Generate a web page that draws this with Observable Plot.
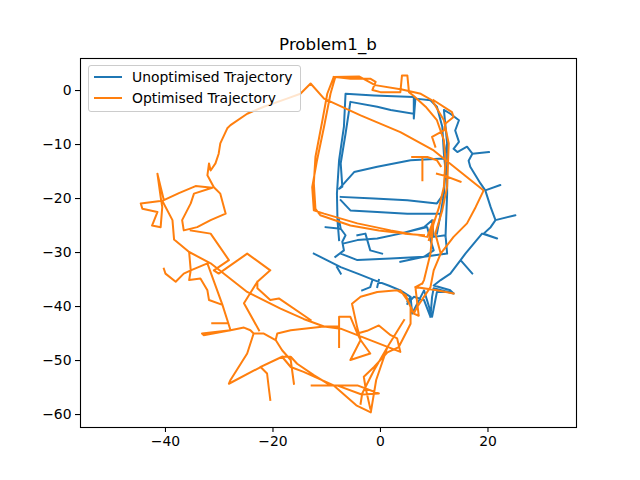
<!DOCTYPE html>
<html>
<head>
<meta charset="utf-8">
<script src="https://cdn.jsdelivr.net/npm/d3@7"></script>
<script src="https://cdn.jsdelivr.net/npm/@observablehq/plot@0.6"></script>
<style>
  html, body { margin: 0; padding: 0; background: white; }
  #wrap { position: relative; width: 640px; height: 480px; font-family: "DejaVu Sans", sans-serif; }
  #title { position: absolute; left: 80px; width: 496px; top: 35px; text-align: center; font-size: 16.7px; line-height: 18px; color: #000; }
  #legend { position: absolute; left: 88px; top: 65px; width: 211px; height: 45px; border: 1px solid #cccccc; border-radius: 3px; background: rgba(255,255,255,0.8); }
  .sw { position: absolute; left: 5px; width: 28px; height: 2px; }
  .lt { position: absolute; left: 43px; font-size: 13.9px; line-height: 16px; color: #000; white-space: nowrap; }
</style>
</head>
<body>
<div id="wrap">
  <div id="chart"></div>
  <div id="title"></div>
  <div id="legend"></div>
</div>
<script>
const chartTitle = "Problem1_b";
const seriesNames = ["Unoptimised Trajectory", "Optimised Trajectory"];
const seriesColors = ["#1f77b4", "#ff7f0e"];
const xTicks = [-40, -20, 0, 20];
const yTicks = [0, -10, -20, -30, -40, -50, -60];
const xDomain = [-55.81, 36.47];
const yDomain = [-62.4, 5.93];

// [x, y] positions; [null, null] marks a gap in the drawn path
const unoptimised = [
  [-7.7,-27.7],[-8.0,-24.0],[-8.1,-19.1],[-7.7,-12.9],[-6.8,-6.7],[-6.5,-0.6],[-1.2,-0.9],[6.2,-1.2],[6.2,-5.2],[6.5,-1.5],[9.3,-1.8],[10.5,-3.0],[11.5,-6.7],[11.8,-11.7],[12.1,-14.8],[11.8,-19.1],[11.2,-22.8],[10.5,-26.5],
  [null,null],
  [6.2,-4.3],[1.9,-3.6],[-0.6,-3.0],[-5.6,-2.1],[-6.5,-8.0],[-7.4,-13.5],[-7.1,-17.8],[-7.7,-18.2],[-4.9,-15.1],[-0.6,-14.1],[5.6,-12.9],[11.8,-12.6],[12.4,-9.8],[11.8,-3.6],
  [13.0,-4.3],[14.6,-5.5],[13.9,-7.4],[14.6,-9.5],[13.6,-10.8],[14.3,-11.4],[16.1,-10.4],[17.1,-11.7],[20.2,-11.4],[17.1,-11.7],[16.4,-13.0],[16.7,-14.1],[18.6,-17.2],[19.5,-18.5],[22.3,-17.5],[19.5,-18.5],[20.5,-21.6],[21.4,-24.0],[25.1,-23.1],[21.4,-24.0],[20.5,-25.3],[19.2,-26.5],[21.7,-27.4],[18.9,-26.5],[15.8,-30.2],[14.9,-31.4],[17.1,-33.9],[14.9,-31.4],[13.0,-33.9],[11.2,-35.1],[9.9,-36.1],[13.0,-37.0],[13.6,-37.6],[9.9,-36.6],[9.6,-38.2],[9.3,-41.9],
  [null,null],
  [12.4,-9.8],[12.4,-19.1],[12.1,-27.1],
  [null,null],
  [-7.4,-19.7],[-1.2,-20.0],[5.0,-20.3],[10.5,-20.9],[11.8,-19.1],
  [null,null],
  [-7.4,-20.3],[-5.6,-22.2],[-0.6,-22.5],[5.0,-22.8],[10.2,-22.8],[11.2,-22.8],
  [null,null],
  [-12.4,-30.2],[-9.8,-31.5],[-7.4,-32.7],[-4.0,-34.0],[-1.2,-35.1],[1.5,-36.1],[3.7,-37.0],[5.6,-38.2],[5.0,-39.1],[5.6,-38.2],[5.9,-41.3],[8.1,-37.0],[9.6,-41.9],[10.5,-37.3],[13.0,-37.3],
  [null,null],
  [-8.1,-32.7],[-7.4,-33.9],
  [null,null],
  [-1.5,-35.1],[-1.9,-36.4],[-3.4,-37.0],
  [null,null],
  [-0.3,-35.1],[-0.6,-36.4],
  [null,null],
  [5.0,-39.5],[6.2,-38.2],[8.1,-38.8],[9.3,-41.9],
  [null,null],
  [-10.2,-25.3],[-7.4,-25.6],[-6.5,-26.8],[-7.1,-28.0],[-6.8,-29.6],[-8.4,-30.8],
  [null,null],
  [-7.7,-24.0],[-7.4,-25.6],
  [null,null],
  [-6.8,-28.3],[-4.3,-27.7],[-0.6,-27.4],[3.7,-26.5],[8.7,-25.3],[9.3,-27.7],[9.9,-29.6],[8.1,-30.8],[1.9,-31.1],[-4.3,-31.4],[-7.4,-30.2],
  [null,null],
  [-4.3,-26.8],[-2.8,-26.5],[-1.9,-29.6],[0.3,-30.2],
  [null,null],
  [3.7,-26.5],[8.1,-25.3],[9.6,-24.0],[9.9,-27.1],[12.1,-26.8],[12.4,-30.2],[8.1,-30.8],[3.7,-31.7]
];

const optimised = [
  [6.2,-41.3],[6.8,-40.1],[9.3,-36.4],[9.9,-33.3],[11.2,-30.2],[13.6,-27.1],[16.1,-24.6],[17.7,-21.6],[19.2,-18.5],[9.9,-11.1],[3.7,-7.7],[-3.7,-4.6],[-10.5,-1.5],[-13.0,1.3],[-14.9,-0.6],[-17.4,-1.5],[-21.7,-3.0],[-24.8,-4.3],[-27.9,-6.4],[-28.5,-7.0],[-29.8,-9.8],[-30.1,-11.7],[-30.7,-13.5],[-31.6,-14.8],[-31.9,-13.5],[-32.2,-15.7],[-31.0,-17.9],[-29.8,-19.1],[-28.8,-22.8],[-31.6,-24.0],[-34.1,-25.3],[-36.6,-25.9],[-36.9,-24.0],[-35.3,-20.9],[-34.7,-19.1],[-31.3,-18.0],[-34.4,-17.7],[-37.5,-19.0],[-40.3,-20.3],[-41.5,-15.4],[-40.9,-19.7],[-40.6,-21.6],[-40.9,-25.3],[-42.5,-25.0],[-41.5,-22.5],[-44.3,-21.9],[-44.6,-20.9],[-40.6,-20.4],[-38.7,-24.0],[-38.4,-27.6],[-35.6,-29.9],[-35.3,-33.3],[-35.6,-35.1],[-33.5,-34.8],[-32.2,-37.0],[-31.9,-38.8],[-29.4,-39.7],[-28.5,-42.5],[-27.9,-44.4],[-32.9,-45.3],[-33.2,-45.0],[-27.9,-44.4],[-25.4,-43.9],[-24.2,-44.4],[-23.6,-45.0],[-24.8,-48.7],[-27.9,-53.6],[-28.2,-54.3],[-22.3,-51.2],[-21.1,-52.4],[-20.8,-54.9],[-20.5,-57.3],
  [null,null],
  [-35.6,-29.9],[-31.6,-32.0],[-24.8,-37.3],[-18.6,-40.4],[-14.3,-42.3],[-10.5,-43.7],[-7.4,-44.1],[-4.3,-45.3],[3.7,-48.4],[3.1,-45.9],[1.9,-45.3],[-0.3,-43.5],[-2.5,-44.5],[-4.3,-45.0],
  [null,null],
  [-40.3,-33.0],[-40.0,-33.9],[-38.1,-35.4],[-36.6,-33.9],[-35.3,-33.3],[-32.2,-32.0],[-29.4,-39.7],[-28.5,-42.5],[-27.9,-44.4],
  [null,null],
  [-35.3,-25.9],[-31.6,-26.5],[-28.2,-31.4],[-31.0,-33.3],[-30.1,-33.9],[-24.8,-30.2],[-20.5,-33.3],[-22.9,-35.4],[-25.4,-39.4],[-22.6,-44.4],
  [null,null],
  [-22.9,-35.4],[-22.9,-36.6],[-20.5,-38.8],[-18.9,-38.5],[-13.0,-42.5],
  [null,null],
  [-31.3,-43.1],[-28.5,-43.1],
  [null,null],
  [-23.6,-45.0],[-21.7,-45.0],[-19.5,-46.2],[-18.3,-48.1],[-16.7,-49.9],[-16.1,-54.3],
  [null,null],
  [-19.5,-46.2],[-19.2,-45.0],[-16.7,-44.4],[-10.5,-43.7],[-7.7,-43.7],
  [null,null],
  [-22.3,-51.2],[-18.3,-49.3],[-16.7,-49.3],[-15.5,-50.6],[-12.4,-52.7],[-9.3,-54.6],[-4.3,-54.6],[-0.3,-56.1],[-3.5,-56.3],[-8.1,-54.6],[-12.8,-54.6],
  [null,null],
  [-18.3,-49.3],[-16.7,-51.2],[-14.3,-52.1],[-8.7,-54.6],[-4.5,-58.3],[-1.8,-59.6],[-0.8,-53.6],[1.3,-47.5],[4.4,-42.5],
  [null,null],
  [-7.7,-47.5],[-7.7,-41.9],[-5.6,-41.9],[-4.3,-45.0],[-3.7,-46.2],[-5.6,-49.9],[-1.9,-48.7],[-3.7,-46.2],[-4.3,-44.0],[-5.3,-39.5],[-3.7,-38.2],[-0.6,-37.3],[3.1,-37.0],[4.7,-37.9],[5.6,-40.1],[5.6,-43.2],[5.0,-44.4],[3.4,-47.5],[1.3,-48.5],[-1.2,-51.2],[-3.1,-53.0],[-2.8,-54.9],[-1.9,-58.9],
  [null,null],
  [1.3,-47.5],[-1.2,-51.8],[-3.4,-56.1],[-3.7,-58.0],
  [null,null],
  [3.7,-37.0],[5.0,-38.8],[6.2,-41.3],[7.1,-41.7],
  [null,null],
  [7.8,-35.7],[6.5,-36.4],[7.1,-41.6],
  [null,null],
  [6.5,-36.4],[10.5,-37.0],[13.6,-37.6],
  [null,null],
  [7.8,-35.7],[8.1,-35.1],[9.3,-30.2],[9.9,-24.0],[8.7,-27.1],[1.9,-25.9],[-4.3,-24.6],[-10.5,-22.8],[-12.4,-22.2],[-12.7,-17.9],[-11.8,-12.9],[-10.5,-6.7],[-9.3,-0.6],[-8.4,2.5],[-5.6,2.2],[-1.9,2.2],[-0.9,1.6],[-1.5,0.1],[0.0,-0.3],[3.7,-0.3],[4.0,2.8],[5.0,2.8],[5.3,-0.3],[6.2,-1.0],[8.4,-3.0],[10.5,-5.5],[11.8,-9.2],[12.1,-12.9],[11.8,-17.8],[10.9,-21.6],[9.9,-24.6],[9.0,-27.7],
  [null,null],
  [-8.7,2.5],[-9.9,-0.6],[-10.8,-5.5],[-12.1,-12.3],[-12.4,-17.2],[-12.1,-21.9],[-11.2,-23.1],[-5.6,-25.0],[-0.3,-25.9],[4.5,-26.5],[8.1,-26.8],
  [null,null],
  [-8.7,2.5],[-4.0,2.6],[-1.0,1.0],[4.0,0.2],[7.5,-0.6],[9.6,-1.8],[11.8,-5.5],[12.7,-9.8],[12.4,-17.8],[11.5,-22.2],[10.2,-26.5],[11.2,-30.2],
  [null,null],
  [5.9,-12.3],[8.7,-12.3],[10.5,-12.9],[11.2,-14.0],
  [null,null],
  [7.8,-12.6],[7.8,-16.6],
  [null,null],
  [10.5,-15.4],[12.0,-15.8],[14.9,-16.9],
  [null,null],
  [9.9,-1.8],[13.3,-4.0],[13.6,-4.9],[12.1,-6.1],[11.8,-7.4],[9.6,-8.6],[10.2,-10.4]
];

const fmt = d => d < 0 ? "\u2212" + Math.abs(d) : String(d);

const chart = Plot.plot({
  width: 640,
  height: 480,
  marginLeft: 80,
  marginRight: 64,
  marginTop: 58,
  marginBottom: 53,
  style: { fontFamily: "DejaVu Sans, sans-serif", fontSize: "13.9px", color: "black", background: "white", overflow: "visible" },
  x: { domain: xDomain, label: null },
  y: { domain: yDomain, label: null },
  marks: [
    Plot.line(unoptimised, { x: d => d[0], y: d => d[1], stroke: seriesColors[0], strokeWidth: 2, strokeLinejoin: "round", strokeLinecap: "square" }),
    Plot.line(optimised, { x: d => d[0], y: d => d[1], stroke: seriesColors[1], strokeWidth: 2, strokeLinejoin: "round", strokeLinecap: "square" }),
    Plot.frame({ stroke: "black", strokeWidth: 1.1 }),
    Plot.axisX(xTicks, { tickSize: 5, tickPadding: 4, tickFormat: fmt, stroke: "black", strokeWidth: 1.1, label: null, fill: "black" }),
    Plot.axisY(yTicks, { tickSize: 5, tickPadding: 4, tickFormat: fmt, stroke: "black", strokeWidth: 1.1, label: null, fill: "black" })
  ]
});
document.getElementById("chart").appendChild(chart);
document.getElementById("title").textContent = chartTitle;

const legend = document.getElementById("legend");
seriesNames.forEach((name, i) => {
  const sw = document.createElement("div");
  sw.className = "sw";
  sw.style.top = (10 + i * 21) + "px";
  sw.style.background = seriesColors[i];
  legend.appendChild(sw);
  const t = document.createElement("div");
  t.className = "lt";
  t.style.top = (3 + i * 21) + "px";
  t.textContent = name;
  legend.appendChild(t);
});
</script>
</body>
</html>
